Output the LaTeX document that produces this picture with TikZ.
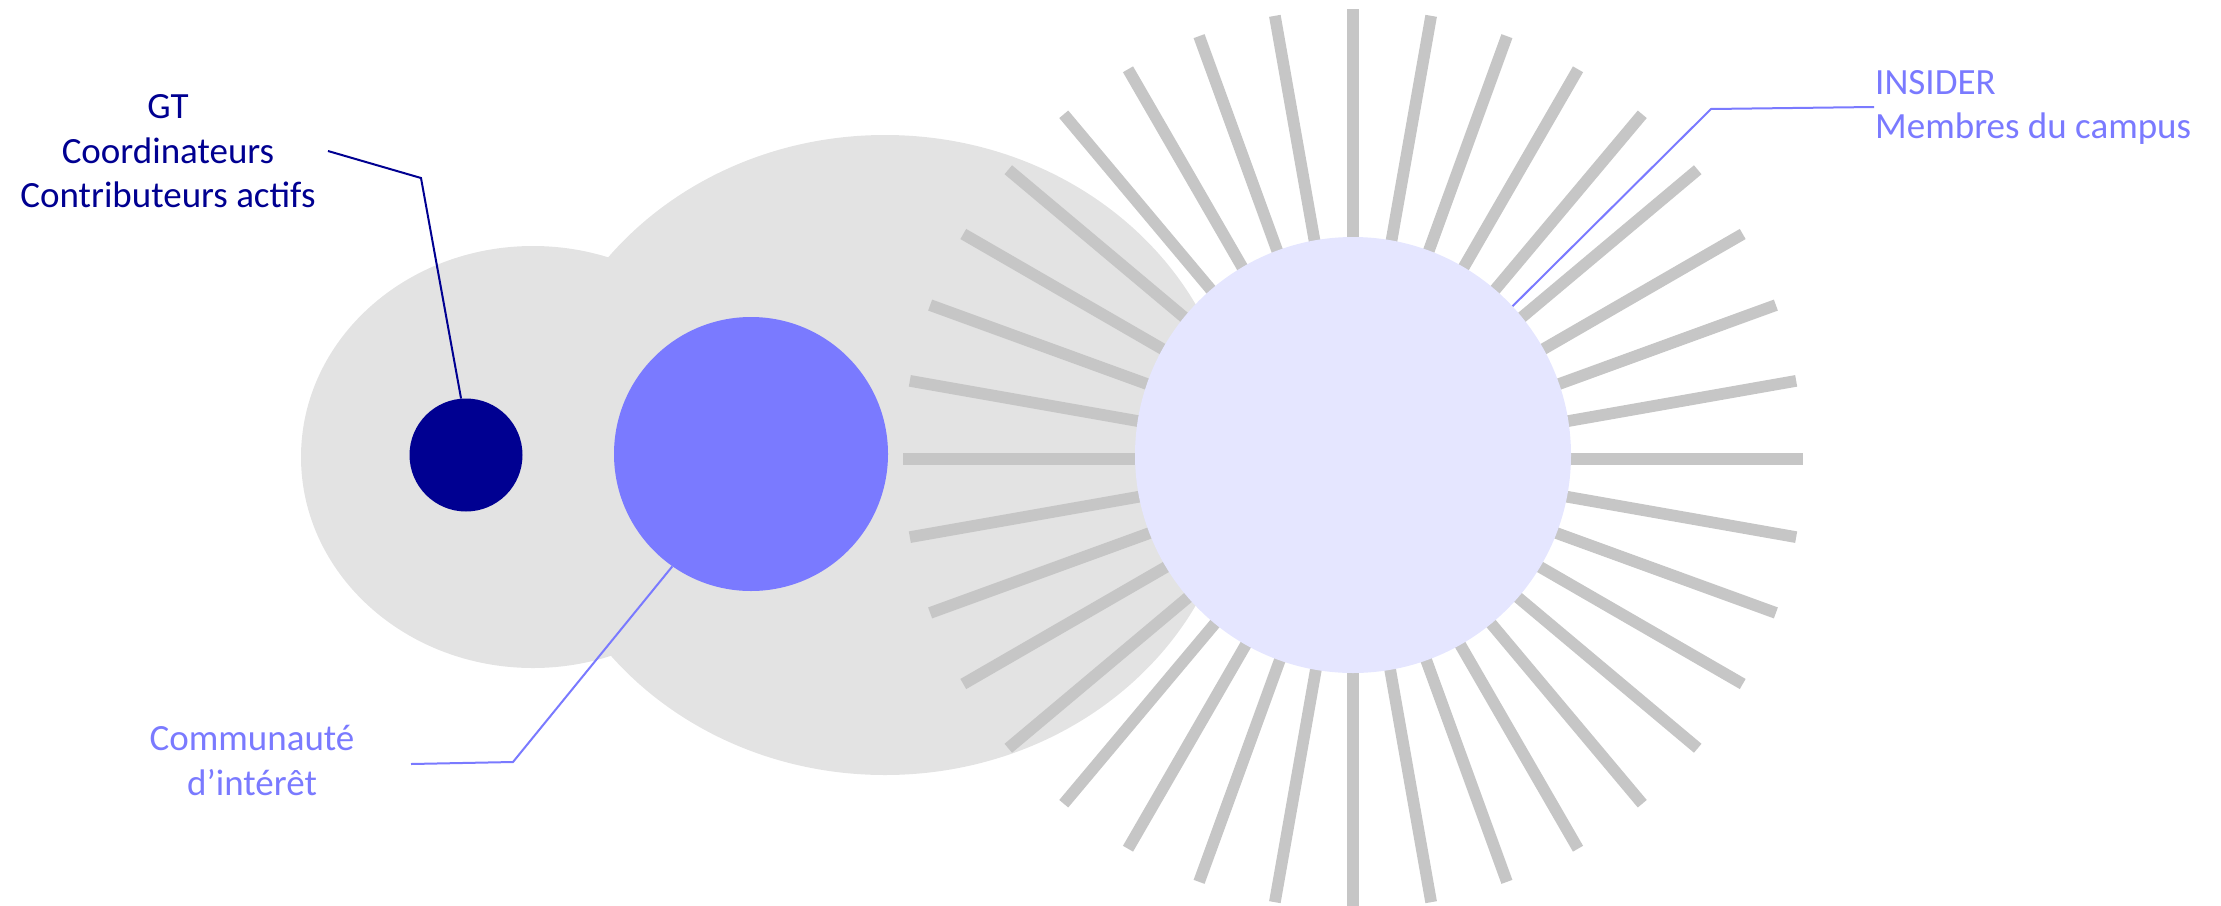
\documentclass[tikz,border=0pt]{standalone}
\usepackage{fontspec}
\setmainfont{Carlito}
\usetikzlibrary{shapes.geometric}
\definecolor{bgray}{HTML}{E3E3E3}
\definecolor{raygray}{HTML}{C6C6C6}
\definecolor{navyc}{RGB}{0,0,145}
\definecolor{midblue}{HTML}{7A7AFF}
\definecolor{lightc}{HTML}{E5E6FF}
\begin{document}
\begin{tikzpicture}[x=1pt,y=-1pt,
  blob/.style={ellipse, fill=bgray, draw=none, inner sep=0pt},
  disc/.style={circle, draw=none, inner sep=0pt, minimum size=#1},
  ray/.style={draw=raygray, line width=11.7pt},
  lbl/.style={font=\fontsize{37}{44.5}\selectfont, inner sep=0pt},
  leader/.style={line width=2pt}]
\useasboundingbox (0,0) rectangle (2221,905);
% grey background blobs
\node[blob, minimum width=464pt, minimum height=422pt] (outer) at (533,457) {};
\node[blob, minimum width=704pt, minimum height=640pt] (big) at (885,455) {};
% rays
\coordinate (rc) at (1353,459);
\foreach \a in {0,10,...,350} \draw[ray] (rc) ++(\a:150) -- ++(\a:300);
% discs
\node[disc=113pt, fill=navyc] (gt) at (466,455) {};
\node[disc=274pt, fill=midblue] (ci) at (751,454) {};
\node[disc=436pt, fill=lightc] (ins) at (1353,455) {};
% labels
\node[lbl, text=navyc, align=center, anchor=north] (gtl) at (168,94.5) {GT\\Coordinateurs\\Contributeurs actifs};
\node[lbl, text=midblue, align=center, anchor=north] (cil) at (252,725.5) {Communauté\\d’intérêt};
\node[lbl, text=midblue, align=left, anchor=north west] (insl) at (1875,70) {INSIDER\\Membres du campus};
% leaders
\coordinate (g1) at (328,151);
\coordinate (g2) at (421,178);
\draw[leader, navyc] (g1) -- (g2) -- (gt.95);
\coordinate (c1) at (411,764);
\coordinate (c2) at (513,762);
\draw[leader, midblue] (c1) -- (c2) -- (ci.235);
\coordinate (i1) at (1874,107);
\coordinate (i2) at (1711,109);
\draw[leader, midblue] (i1) -- (i2) -- (ins.43);
\end{tikzpicture}
\end{document}
